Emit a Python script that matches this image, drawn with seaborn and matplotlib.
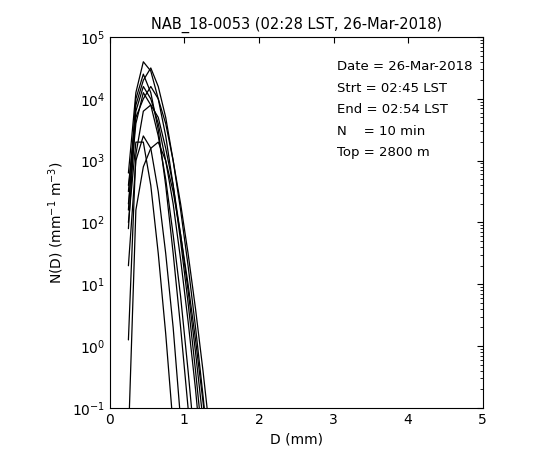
import matplotlib
matplotlib.use("Agg")
import matplotlib.pyplot as plt
import seaborn as sns
import numpy as np
import pandas as pd

# diameter bins (mm) and log10 N(D) for each 1-min spectrum
diam = [0.25, 0.35, 0.45, 0.55, 0.65, 0.75, 0.85, 0.95, 1.05, 1.15, 1.25, 1.35]
log_nd = [
    [2.8, 4.1, 4.6, 4.45, 4.0, 3.4, 2.6, 1.7, 0.7, -0.4, -1.6, -3],
    [2.5, 3.9, 4.3, 4.5, 4.2, 3.7, 3.0, 2.2, 1.3, 0.3, -0.8, -2],
    [2.2, 4.0, 4.4, 4.1, 3.5, 2.6, 1.5, 0.3, -1.0, -2.5, -4, -6],
    [1.9, 3.8, 4.2, 4.0, 3.6, 3.0, 2.3, 1.4, 0.4, -0.7, -2, -3.5],
    [2.6, 3.7, 4.0, 4.2, 4.0, 3.6, 3.0, 2.3, 1.5, 0.6, -0.4, -1.5],
    [2.3, 3.6, 4.1, 3.9, 3.4, 2.7, 1.8, 0.8, -0.4, -1.7, -3.2, -5],
    [0.1, 3.1, 3.8, 3.9, 3.7, 3.2, 2.6, 1.8, 0.9, -0.1, -1.2, -2.5],
    [1.3, 3.0, 3.4, 3.2, 2.5, 1.5, 0.3, -1.2, -3.0, -5, -7, -9],
    [-1.5, 2.2, 2.9, 3.2, 3.3, 3.0, 2.5, 1.8, 1.0, 0.1, -0.9, -2],
    [2.0, 3.3, 3.3, 2.6, 1.5, 0.2, -1.3, -3.0, -5, -7, -9, -11],
]

rows = []
for i, curve in enumerate(log_nd):
    for d, v in zip(diam, curve):
        rows.append({"D": d, "ND": 10.0 ** v, "min": i})
df = pd.DataFrame(rows)

sns.set_style("white", {"text.color": "black", "axes.labelcolor": "black",
                        "xtick.color": "black", "ytick.color": "black"})
plt.rcParams["font.family"] = ["DejaVu Sans"]

fig = plt.figure(figsize=(5.6, 4.63), dpi=100)
ax = fig.add_axes([0.196, 0.119, 0.666, 0.801])
sns.lineplot(data=df, x="D", y="ND", units="min", estimator=None,
             color="black", linewidth=0.9, ax=ax, legend=False)
ax.set_yscale("log")
ax.set_xlim(0, 5)
ax.set_ylim(1e-1, 1e5)
ax.set_xticks([0, 1, 2, 3, 4, 5])
ax.tick_params(which="both", direction="in", top=True, right=True, labelsize=10)
ax.tick_params(which="major", length=4)
ax.tick_params(which="minor", length=2)
for s in ax.spines.values():
    s.set_color("black")
    s.set_linewidth(0.8)
ax.set_xlabel("D (mm)", fontsize=10)
ax.set_ylabel("N(D) (mm$^{-1}$ m$^{-3}$)", fontsize=10)
ax.set_title("NAB_18-0053 (02:28 LST, 26-Mar-2018)", fontsize=10.5)

info = ["Date = 26-Mar-2018", "Strt = 02:45 LST", "End = 02:54 LST",
        "N    = 10 min", "Top = 2800 m"]
for k, line in enumerate(info):
    ax.text(0.61, 0.91 - k * 0.058, line, transform=ax.transAxes, fontsize=9.5)

fig.savefig("out.png", dpi=100)
